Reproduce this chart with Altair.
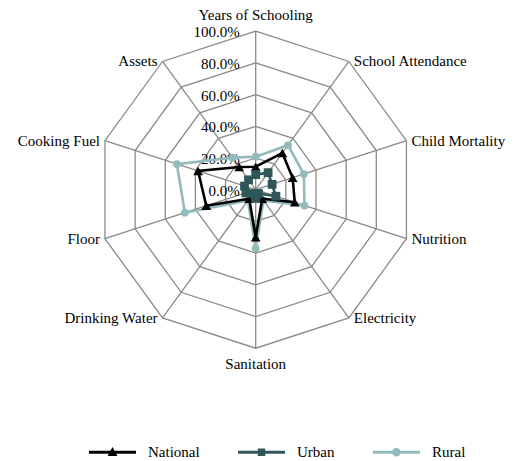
import altair as alt
import pandas as pd

categories = ["Years of Schooling", "School Attendance", "Child Mortality", "Nutrition",
              "Electricity", "Sanitation", "Drinking Water", "Floor", "Cooking Fuel", "Assets"]
national = [14.5, 28.6, 24.5, 25.9, 7.0, 30.0, 7.0, 32.8, 38.2, 17.7]
urban = [9.5, 13.3, 10.9, 13.4, 3.0, 5.5, 3.0, 6.5, 7.4, 7.7]
rural = [20.8, 34.7, 31.9, 32.4, 8.4, 37.0, 8.4, 47.0, 52.3, 25.0]

series_names = ["National", "Urban", "Rural"]
series_values = {"National": national, "Urban": urban, "Rural": rural}
series_colors = ["#000000", "#2F5658", "#93BBBC"]
series_shapes = ["triangle-up", "square", "circle"]
series_sizes = [95, 60, 70]
legend_paths = [
    "M-1,-0.06H1V0.06H-1Z M0,-0.22L0.21,0.16L-0.21,0.16Z",
    "M-1,-0.06H1V0.06H-1Z M-0.16,-0.16H0.16V0.16H-0.16Z",
    "M-1,-0.06H1V0.06H-1Z M0.18,0A0.18,0.18,0,1,1,-0.18,0A0.18,0.18,0,1,1,0.18,0Z",
]
grid_levels = [20, 40, 60, 80, 100]
tick_values = [0, 20, 40, 60, 80, 100]
tick_labels = ["0.0%", "20.0%", "40.0%", "60.0%", "80.0%", "100.0%"]

N = len(categories)
FONT = "Liberation Serif"
GRID = "#8A8A8A"

# tables
rows = []
for s in series_names:
    vals = series_values[s]
    for i in range(N + 1):
        rows.append({"series": s, "idx": i, "value": vals[i % N]})
series_df = pd.DataFrame(rows)

grid_df = pd.DataFrame([{"level": lv, "idx": i, "value": lv}
                        for lv in grid_levels for i in range(N + 1)])
spoke_df = pd.DataFrame({"idx": list(range(N)), "value": [100] * N})
cat_df = pd.DataFrame({"idx": list(range(N)), "cat": categories, "value": [100] * N})
tick_df = pd.DataFrame({"value": tick_values, "label": tick_labels})
legend_df = pd.DataFrame({"series": series_names})

W, H = 501, 453
PX = 1.585
CX, CY = 247.7, 181.7
xs = alt.Scale(domain=[-CX / PX, (W - CX) / PX], nice=False, zero=False)
ys = alt.Scale(domain=[-(H - CY) / PX, CY / PX], nice=False, zero=False)

color_scale = alt.Scale(domain=series_names, range=series_colors)


def polar(ch):
    return ch.transform_calculate(
        ang=f"datum.idx * 2 * PI / {N}"
    ).transform_calculate(
        px="datum.value * sin(datum.ang)",
        py="datum.value * cos(datum.ang)",
    )


X = alt.X("px:Q", scale=xs, axis=None)
Y = alt.Y("py:Q", scale=ys, axis=None)

rings = polar(alt.Chart(grid_df).mark_line(color=GRID, strokeWidth=1.3)).encode(
    x=X, y=Y, detail="level:N", order="idx:Q")

spokes = polar(alt.Chart(spoke_df).mark_rule(color=GRID, strokeWidth=1.3)).encode(
    x=X, y=Y, x2=alt.datum(0), y2=alt.datum(0))

ticks = alt.Chart(tick_df).mark_text(
    align="right", baseline="middle", dx=-16, dy=1, font=FONT, fontSize=15, color="#000000"
).encode(x=alt.X("z:Q", scale=xs, axis=None), y=alt.Y("value:Q", scale=ys, axis=None),
         text="label:N").transform_calculate(z="0")

cat_base = polar(alt.Chart(cat_df))
cat_top = cat_base.mark_text(align="center", baseline="middle", dy=-16, font=FONT,
                             fontSize=15, color="#000000").encode(
    x=X, y=Y, text="cat:N").transform_filter("datum.idx == 0")
cat_bottom = cat_base.mark_text(align="center", baseline="middle", dy=16, font=FONT,
                                fontSize=15, color="#000000").encode(
    x=X, y=Y, text="cat:N").transform_filter(f"datum.idx == {N // 2}")
cat_right = cat_base.mark_text(align="left", baseline="middle", dx=5, font=FONT,
                               fontSize=15, color="#000000").encode(
    x=X, y=Y, text="cat:N").transform_filter(f"datum.idx > 0 && datum.idx < {N // 2}")
cat_left = cat_base.mark_text(align="right", baseline="middle", dx=-5, font=FONT,
                              fontSize=15, color="#000000").encode(
    x=X, y=Y, text="cat:N").transform_filter(f"datum.idx > {N // 2}")

layers = [rings, spokes, ticks, cat_top, cat_bottom, cat_right, cat_left]

for s in ["Rural", "National", "Urban"]:
    base = polar(alt.Chart(series_df)).transform_filter(f"datum.series == '{s}'")
    line = base.mark_line(strokeWidth=2.6).encode(
        x=X, y=Y, order="idx:Q",
        color=alt.Color("series:N", scale=color_scale, legend=None))
    pts = base.mark_point(filled=True, opacity=1).encode(
        x=X, y=Y,
        color=alt.Color("series:N", scale=color_scale, legend=None),
        shape=alt.Shape("series:N", scale=alt.Scale(domain=series_names, range=series_shapes), legend=None),
        size=alt.Size("series:N", scale=alt.Scale(domain=series_names, range=series_sizes), legend=None),
    ).transform_filter(f"datum.idx < {N}")
    layers += [line, pts]


def legend_def():
    return alt.Legend(title=None, orient="none", direction="horizontal",
                      legendX=81, legendY=420.5, symbolSize=2209,
                      symbolStrokeWidth=0, symbolOpacity=1,
                      labelFont=FONT, labelFontSize=15, labelColor="#000000",
                      labelOffset=12, columnPadding=38, padding=0)


legend_layer = alt.Chart(legend_df).mark_point(filled=True, opacity=0, size=0).encode(
    x=alt.datum(0, scale=xs), y=alt.datum(0, scale=ys),
    color=alt.Color("series:N", scale=color_scale, legend=legend_def()),
    shape=alt.Shape("series:N", scale=alt.Scale(domain=series_names, range=legend_paths),
                    legend=legend_def()),
)
layers.append(legend_layer)

chart = alt.layer(*layers).resolve_scale(
    shape="independent", color="independent", size="independent"
).properties(
    width=W, height=H, padding=0, autosize=alt.AutoSizeParams(type="none")
).configure_view(stroke=None).configure_legend(
    labelFont=FONT, labelFontSize=15, labelColor="#000000"
)

chart.save("out.html", embed_options={"renderer": "svg", "actions": False})
